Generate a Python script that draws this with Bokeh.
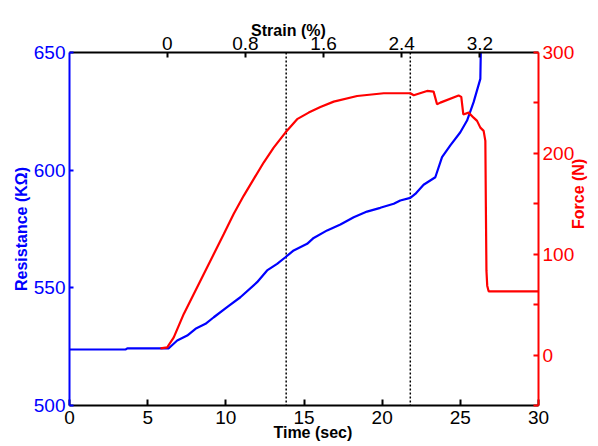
import math
from bokeh.plotting import figure
from bokeh.models import Range1d, LinearAxis, FixedTicker, Span
from bokeh.embed import file_html
from bokeh.resources import INLINE

# ---- data ----
time_res = [0, 3.6, 3.7, 6.35, 6.89, 7.53, 8.06, 8.70, 9.23, 10.08, 10.93, 12.0, 12.64,
            13.28, 13.81, 14.34, 15.2, 15.62, 16.48, 17.33, 18.18, 19.03, 19.88, 20.74,
            21.16, 21.8, 22.12, 22.65, 23.4, 23.83, 24.36, 25.0, 25.43, 25.85, 26.28, 26.31]
resistance = [523.8, 523.8, 524.3, 524.3, 527.6, 529.7, 532.6, 534.7, 537.5, 541.8, 546.0,
              552.4, 557.4, 560.2, 563.0, 565.9, 568.7, 571.2, 574.4, 576.9, 580.0, 582.4,
              584.0, 585.7, 587.1, 588.2, 589.9, 593.8, 597.0, 605.5, 610.5, 616.1, 621.1,
              628.9, 638.8, 651.0]

time_force = [5.82, 6.25, 6.67, 7.31, 7.95, 8.59, 9.23, 9.87, 10.5, 11.14, 11.78, 12.42,
              13.06, 13.81, 14.56, 15.3, 16.05, 16.9, 18.4, 20.1, 21.8, 22.02, 22.87, 23.29,
              23.51, 23.72, 24.89, 25.06, 25.19, 25.53, 25.85, 26.07, 26.28, 26.49, 26.6,
              26.63, 26.67, 26.72, 26.81, 30.0]
force = [6.7, 7.7, 17.6, 40.8, 60.6, 80.4, 100.2, 120.0, 139.8, 157.9, 174.5, 190.9,
         205.7, 220.6, 233.9, 240.4, 246.0, 251.3, 256.9, 259.6, 259.6, 257.6, 261.9, 261.2,
         248.7, 250.3, 257.4, 256.0, 238.6, 240.4, 235.4, 232.2, 225.5, 222.3, 212.4,
         153.0, 83.7, 68.8, 63.2, 63.2]

markers_time = [13.86, 21.8]

time_ticks = [0, 5, 10, 15, 20, 25, 30]
res_ticks = [500, 550, 600, 650]
strain_ticks = [0, 0.8, 1.6, 2.4, 3.2]
force_ticks = [-50, 0, 50, 100, 150, 200, 250, 300]
force_labels = {-50: "", 0: "0", 50: "", 100: "100", 150: "", 200: "200", 250: "", 300: "300"}

NB = "\u00a0"
BLUE = "#0000ff"
RED = "#ff0000"
FONT = "Liberation Sans"

p = figure(width=598, height=446, output_backend="svg", toolbar_location=None,
           x_range=Range1d(0, 30), y_range=Range1d(500, 650),
           min_border_left=69, min_border_right=60, min_border_top=52, min_border_bottom=41)
p.outline_line_color = None
p.xgrid.visible = False
p.ygrid.visible = False
p.background_fill_color = "white"
p.border_fill_color = "white"

p.extra_x_ranges = {"strain": Range1d(-1.0, 3.8)}
p.extra_y_ranges = {"force": Range1d(-50, 300)}

def style(ax, color, ticks, tick_in, standoff, label, label_standoff):
    ax.ticker = FixedTicker(ticks=ticks)
    ax.minor_tick_line_color = None
    ax.major_tick_in = tick_in
    ax.major_tick_out = 0
    ax.axis_line_color = color
    ax.axis_line_width = 2
    ax.major_tick_line_color = color
    ax.major_tick_line_width = 2
    ax.major_label_text_color = color
    ax.major_label_text_font = FONT
    ax.major_label_text_font_size = "19px"
    ax.major_label_standoff = standoff
    ax.axis_label = label
    ax.axis_label_standoff = label_standoff
    ax.axis_label_text_font = FONT
    ax.axis_label_text_font_size = "16px"
    ax.axis_label_text_font_style = "bold"
    ax.axis_label_text_color = color

xb = p.xaxis[0]
style(xb, "black", time_ticks, 6, 5, NB * 4 + "Time (sec)", -3)
yl = p.yaxis[0]
style(yl, BLUE, res_ticks, 4, 4, "Resistance (KΩ)", 1)

xt = LinearAxis(x_range_name="strain")
style(xt, "black", strain_ticks, 5, 3, "Strain (%)" + NB * 7, -5)
xt.major_label_overrides = {0: "0", 0.8: "0.8", 1.6: "1.6", 2.4: "2.4", 3.2: "3.2"}
p.add_layout(xt, "above")

yr = LinearAxis(y_range_name="force")
style(yr, RED, force_ticks, 5, 4, "Force (N)" + NB * 2, 1)
yr.major_label_overrides = force_labels
if "axis_label_orientation" in yr.properties():
    yr.axis_label_orientation = math.pi / 2
p.add_layout(yr, "right")

for t in markers_time:
    p.add_layout(Span(location=t, dimension="height", line_color="black",
                      line_width=1.5, line_dash="2 2", level="underlay"))

p.line(time_res, resistance, line_color=BLUE, line_width=2.2)
p.line(time_force, force, line_color=RED, line_width=2.2, y_range_name="force")

open("out.html", "w").write(file_html(p, INLINE))
